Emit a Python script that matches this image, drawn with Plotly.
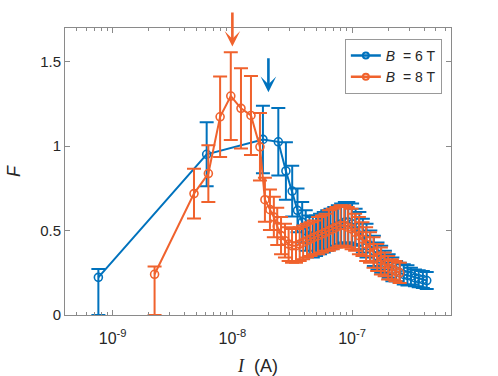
import numpy as np
import plotly.graph_objects as go

# B = 6 T
I_6T = [7.6e-10, 6.1e-9, 1.8e-8, 2.42e-8, 2.8e-8, 3.16e-8, 3.5e-8, 3.83e-8, 4.1e-8, 4.4e-8,
        4.7e-8, 5.0e-8, 5.4e-8, 5.8e-8, 6.2e-8, 6.6e-8, 7.1e-8, 7.6e-8, 8.1e-8, 8.7e-8,
        9.3e-8, 1.0e-7, 1.07e-7, 1.15e-7, 1.23e-7, 1.32e-7, 1.42e-7, 1.52e-7, 1.63e-7, 1.75e-7,
        1.88e-7, 2.02e-7, 2.17e-7, 2.33e-7, 2.5e-7, 2.7e-7, 2.9e-7, 3.1e-7, 3.35e-7, 3.6e-7,
        3.9e-7, 4.2e-7]
F_6T = [0.223, 0.952, 1.04, 1.026, 0.853, 0.734, 0.62, 0.55, 0.50, 0.47,
        0.46, 0.47, 0.48, 0.49, 0.50, 0.51, 0.52, 0.53, 0.54, 0.55,
        0.55, 0.54, 0.52, 0.50, 0.47, 0.44, 0.41, 0.38, 0.35, 0.33,
        0.31, 0.29, 0.27, 0.26, 0.25, 0.24, 0.235, 0.23, 0.22, 0.215,
        0.21, 0.204]
errp_6T = [0.05, 0.19, 0.2, 0.2, 0.17, 0.15, 0.13, 0.12, 0.12, 0.12,
           0.12, 0.12, 0.12, 0.12, 0.12, 0.12, 0.12, 0.12, 0.12, 0.12,
           0.12, 0.12, 0.11, 0.11, 0.1, 0.1, 0.09, 0.09, 0.08, 0.08,
           0.07, 0.07, 0.07, 0.06, 0.06, 0.06, 0.06, 0.05, 0.05, 0.05,
           0.05, 0.05]
errm_6T = [0.223] + errp_6T[1:]

# B = 8 T
I_8T = [2.24e-9, 4.78e-9, 6.3e-9, 7.9e-9, 9.7e-9, 1.18e-8, 1.43e-8, 1.7e-8, 1.87e-8, 2.06e-8,
        2.22e-8, 2.37e-8, 2.55e-8, 2.75e-8, 2.95e-8, 3.15e-8, 3.4e-8, 3.65e-8, 3.9e-8, 4.2e-8,
        4.5e-8, 4.8e-8, 5.2e-8, 5.6e-8, 6.0e-8, 6.4e-8, 6.9e-8, 7.4e-8, 8.0e-8, 8.6e-8,
        9.2e-8, 9.9e-8, 1.06e-7, 1.14e-7, 1.22e-7, 1.31e-7, 1.41e-7, 1.51e-7, 1.62e-7, 1.74e-7,
        1.87e-7, 2.0e-7, 2.15e-7, 2.3e-7, 2.5e-7]
F_8T = [0.241, 0.719, 0.838, 1.174, 1.297, 1.224, 1.182, 0.996, 0.683, 0.624,
        0.58, 0.525, 0.47, 0.44, 0.42, 0.41, 0.41, 0.42, 0.43, 0.44,
        0.45, 0.46, 0.47, 0.48, 0.49, 0.50, 0.51, 0.52, 0.53, 0.53,
        0.52, 0.51, 0.49, 0.47, 0.45, 0.42, 0.40, 0.37, 0.34, 0.32,
        0.30, 0.28, 0.27, 0.26, 0.25]
errp_8T = [0.046, 0.147, 0.168, 0.238, 0.26, 0.238, 0.234, 0.2, 0.13, 0.12,
           0.12, 0.11, 0.11, 0.1, 0.1, 0.1, 0.1, 0.1, 0.1, 0.1,
           0.1, 0.1, 0.11, 0.11, 0.11, 0.12, 0.12, 0.12, 0.12, 0.12,
           0.12, 0.12, 0.11, 0.11, 0.1, 0.1, 0.09, 0.09, 0.08, 0.08,
           0.07, 0.07, 0.06, 0.06, 0.06]
errm_8T = [0.241] + errp_8T[1:]

BLUE = "#0072BD"
ORANGE = "#F0622D"
TXT = "#262626"
AX = "#8a8a8a"

fig = go.Figure()
for name, xs, ys, ep, em, col in [("<i>B</i>  = 6 T", I_6T, F_6T, errp_6T, errm_6T, BLUE),
                                  ("<i>B</i>  = 8 T", I_8T, F_8T, errp_8T, errm_8T, ORANGE)]:
    fig.add_trace(go.Scatter(x=xs, y=ys, name=name, mode="lines+markers", showlegend=False,
                             line=dict(color=col, width=2),
                             marker=dict(symbol="circle-open", size=8, color=col, line=dict(width=1.6)),
                             error_y=dict(type="data", symmetric=False, array=ep, arrayminus=em,
                                          color=col, thickness=2, width=7),
                             cliponaxis=False))
    # legend entry with a smaller marker
    fig.add_trace(go.Scatter(x=[None], y=[None], name=name, mode="lines+markers",
                             line=dict(color=col, width=2.5),
                             marker=dict(symbol="circle-open", size=6, color=col, line=dict(width=2))))

# arrows marking the peaks
for xa, y0, y1, col in [(1e-8, 1.59, 1.80, ORANGE), (2e-8, 1.32, 1.53, BLUE)]:
    fig.add_annotation(x=np.log10(xa), y=y0, ax=np.log10(xa), ay=y1, xref="x", yref="y",
                       axref="x", ayref="y", showarrow=True, arrowhead=3, arrowsize=1.0,
                       arrowwidth=2.6, arrowcolor=col, text="")

minor_vals = [m * 10.0 ** e for e in range(-10, -6) for m in range(2, 10)]
fig.update_layout(
    width=498, height=376,
    margin=dict(l=65, r=47, t=28, b=61),
    plot_bgcolor="white", paper_bgcolor="white",
    font=dict(family="Liberation Sans, Arial", size=15, color=TXT),
    showlegend=True,
    legend=dict(x=0.725, y=0.962, xanchor="left", yanchor="top", bgcolor="white",
                bordercolor="#999999", borderwidth=1, font=dict(size=14),
                itemwidth=30, tracegroupgap=0),
    xaxis=dict(type="log", range=[np.log10(4.0e-10), np.log10(6.7e-7)],
               tickvals=[1e-9, 1e-8, 1e-7],
               ticktext=["10<sup>-9</sup>", "10<sup>-8</sup>", "10<sup>-7</sup>"],
               ticks="inside", ticklen=5, tickcolor=AX, tickfont=dict(size=16),
               ticklabelstandoff=9,
               minor=dict(tickvals=minor_vals, ticks="inside", ticklen=3, tickcolor=AX, showgrid=False),
               showline=True, linecolor=AX, linewidth=1, mirror="allticks",
               showgrid=False, zeroline=False, automargin=False,
               title=dict(text="<i style='font-family:Liberation Serif'>I</i>  (A)", standoff=14)),
    yaxis=dict(range=[0, 1.7], tickvals=[0, 0.5, 1, 1.5], ticktext=["0", "0.5", "1", "1.5"],
               ticks="inside", ticklen=5, tickcolor=AX,
               showline=True, linecolor=AX, linewidth=1, mirror="ticks",
               showgrid=False, zeroline=False, automargin=False,
               title=dict(text="<i>F</i>", standoff=14)),
)

fig.write_html("out.html", config={"displayModeBar": False},
               post_script="document.body.style.margin='0';")
